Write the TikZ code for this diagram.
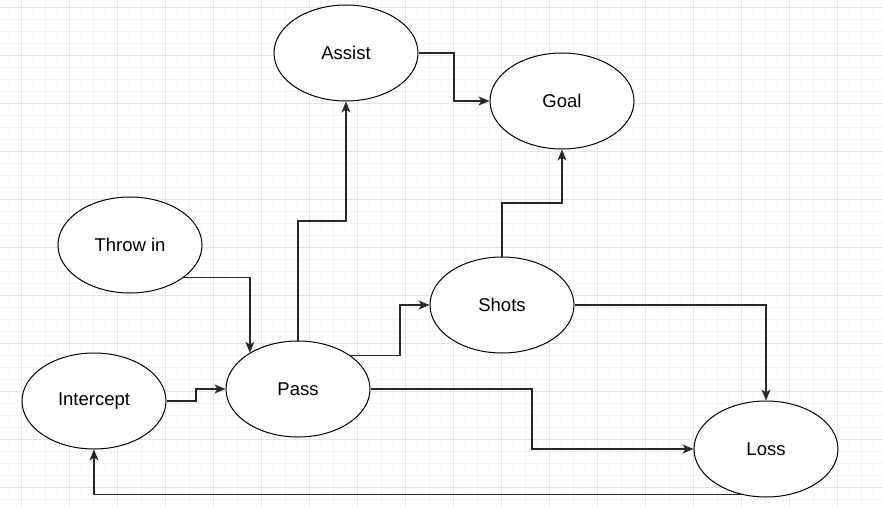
\documentclass[tikz,border=0pt]{standalone}
\usepackage{fontspec}
\setmainfont{Liberation Sans}
\usetikzlibrary{shapes.geometric,arrows.meta,calc}
\definecolor{gridmajor}{RGB}{228,228,228}
\definecolor{gridminor}{RGB}{244,244,244}
\definecolor{edge}{RGB}{40,40,40}
\tikzset{>={Stealth[length=11pt,width=9pt,inset=3pt]}}
\tikzset{
  event/.style = {
    ellipse, draw=black, fill=white, line width=1pt,
    minimum width=144, minimum height=96, inner sep=0pt,
    font=\fontsize{18.5}{22}\selectfont
  },
  link/.style = {->, draw=edge, line width=1.3pt}
}

\begin{document}
\begin{tikzpicture}[x=1pt,y=-1pt]
  \useasboundingbox (0,0) rectangle (883,506);
  \fill[white] (0,0) rectangle (883,506);
  % grid
  \foreach \x in {9,21,...,883} \draw[gridminor,line width=1pt] (\x,0) -- (\x,506);
  \foreach \y in {7,19,...,506} \draw[gridminor,line width=1pt] (0,\y) -- (883,\y);
  \foreach \x in {21,69,...,883} \draw[gridmajor,line width=1pt] (\x,0) -- (\x,506);
  \foreach \y in {7,55,...,506} \draw[gridmajor,line width=1pt] (0,\y) -- (883,\y);
  % events
  \node[event] (assist)    at (346,53)  {Assist};
  \node[event] (goal)      at (562,101) {Goal};
  \node[event] (throw)     at (130,245) {Throw in};
  \node[event] (shots)     at (502,305) {Shots};
  \node[event] (pass)      at (298,389) {Pass};
  \node[event] (intercept) at (94,401)  {Intercept};
  \node[event] (loss)      at (766,449) {Loss};
  % links
  \draw[link] (throw.-31) -| (pass.143);
  \draw[link] (intercept.east) -| ($(intercept.east)!.5!(pass.west)$) |- (pass.west);
  \draw[link] (pass.north) |- ($(pass.north)!.5!(assist.south)$) -| (assist.south);
  \draw[link] (assist.east) -| ($(assist.east)!.5!(goal.west)$) |- (goal.west);
  \draw[link] (shots.north) |- ($(shots.north)!.5!(goal.south)$) -| (goal.south);
  \draw[link] (pass.33) -- ++(50,0) |- (shots.west);
  \draw[link] (shots.east) -| (loss.north);
  \draw[link] (pass.east) -| ($(pass.east)!.5!(loss.west)$) |- (loss.west);
  \draw[link] (loss.-119) -| (intercept.south);
\end{tikzpicture}
\end{document}
